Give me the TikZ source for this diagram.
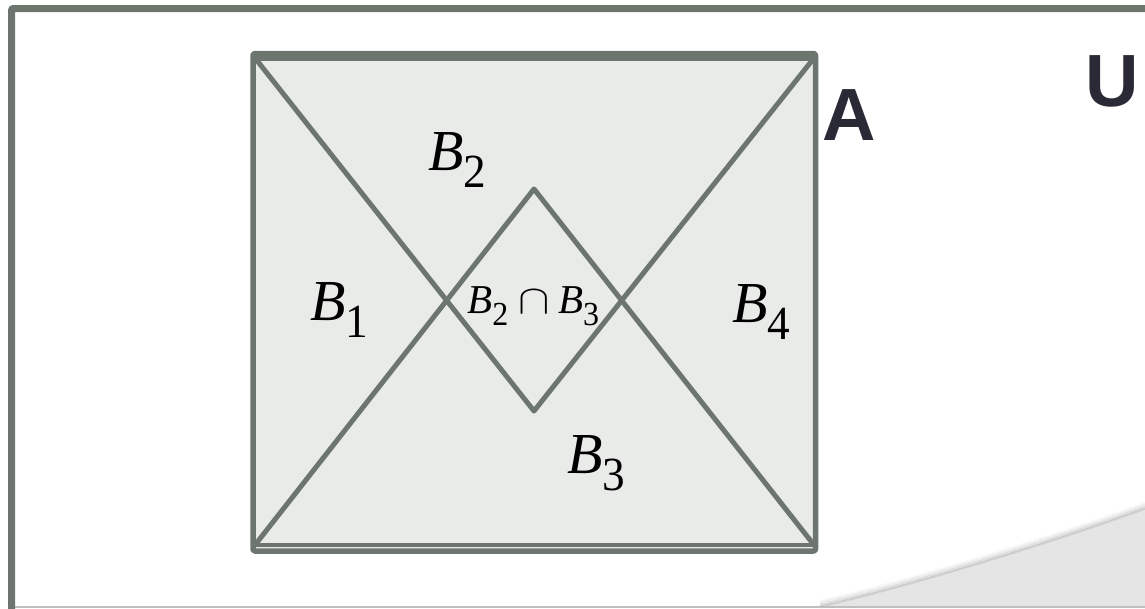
\RequirePackage{fix-cm}
\documentclass[tikz,border=0pt]{standalone}
\usepackage{fontspec}
\setmainfont{Liberation Serif}
\newfontfamily\headfont{Liberation Sans}
\definecolor{framegray}{RGB}{108,118,110}
\definecolor{regionfill}{RGB}{233,235,233}
\definecolor{inkdark}{RGB}{42,42,54}
\definecolor{curlgray}{RGB}{229,229,229}
\newcommand{\setB}[1]{\textit{B}\raisebox{-0.3em}{\scalebox{0.78}[0.82]{#1}}}
\tikzset{
  venn sketch/.style={
    x=1pt, y=-1pt,
    every node/.style={inner sep=0pt, anchor=base west},
  },
  venn line/.style={draw=framegray, line width=5pt, line join=round},
  set label/.style={font=\fontsize{58}{58}\selectfont},
  small label/.style={font=\fontsize{41}{41}\selectfont},
  space label/.style={font=\headfont\bfseries\fontsize{74}{74}\selectfont, text=inkdark},
}

\begin{document}
\begin{tikzpicture}[
  venn sketch,
]

\clip (0,0) rectangle (1145,608);

\coordinate (tl) at (255,58);
\coordinate (tr) at (814,58);
\coordinate (bl) at (255,545);
\coordinate (br) at (814,545);
\coordinate (vbot) at (534,411);
\coordinate (vtop) at (534,189);

\foreach \d/\o in {1/0.35,3/0.22,5/0.12,7/0.06}
  \draw[gray, line width=2.5pt, opacity=\o, yshift=\d pt]
    (820,608) .. controls (900,590) and (1050,545) .. (1145,510);
\fill[curlgray] (820,608) .. controls (900,590) and (1050,545) .. (1145,510) -- (1145,608) -- cycle;
\draw[lightgray, line width=1.5pt] (15,607) -- (1145,607);
\draw[framegray, line width=7pt, rounded corners=2pt] (11.5,620) -- (11.5,8.5) -- (1160,8.5);

\draw[venn line, fill=regionfill, line width=5.5pt, rounded corners=2pt]
  (253,53.5) rectangle (815.5,551);
\draw[venn line] (tl) -- (tr);
\draw[venn line, line width=3.5pt] (bl) -- (br);
\draw[venn line] (tl) -- (vbot) -- (tr);
\draw[venn line] (bl) -- (vtop) -- (br);

\node[set label] (b1) at (310,320) {\setB{1}};
\node[set label] (b2) at (428,170) {\setB{2}};
\node[set label] (b3) at (567,473) {\setB{3}};
\node[set label] (b4) at (732,322) {\setB{4}};
\node[small label] (b23) at (467,313) {\setB{2}\hspace{0.25em}\scalebox{1.15}[1]{$\cap$}\hspace{0.2em}\setB{3}};

\node[space label] (seta) at (822,140) {A};
\node[space label] (univ) at (1085,106) {U};
\end{tikzpicture}
\end{document}
